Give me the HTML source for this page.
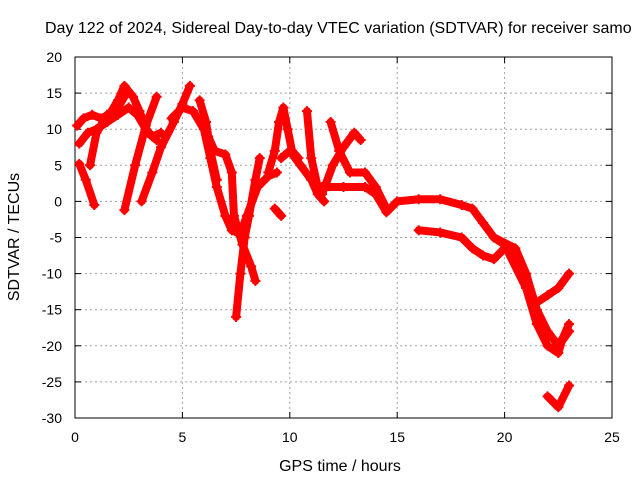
<!DOCTYPE html>
<html><head><meta charset="utf-8"><style>
body{margin:0;background:#fff}
svg{display:block;font-family:"Liberation Sans",sans-serif}
</style></head><body>
<svg id="chart" width="640" height="480">
<text x="45" y="33" text-anchor="start" font-size="16">Day 122 of 2024, Sidereal Day-to-day VTEC variation (SDTVAR) for receiver samo</text>
<text x="340" y="471" text-anchor="middle" font-size="16">GPS time / hours</text>
<text x="19" y="237" text-anchor="middle" font-size="16" transform="rotate(-90 19 237)">SDTVAR / TECUs</text>
<g id="grid"></g>
<g id="axes"></g>
<g id="series"></g>
</svg>
<script>
const xTicks=[0,5,10,15,20,25];
const yTicks=[20,15,10,5,0,-5,-10,-15,-20,-25,-30];
const trackA_h=[0.1,0.4,0.8,1.2,1.6,2.0,2.3,2.7,3.0,3.4,3.8];
const trackA_v=[10.5,11.5,12,11.5,12,14,16,14.5,12.5,9.5,8.5];
const trackB_h=[0.2,0.6,1.0,1.5,2.0,2.5,2.9,3.3,3.6,4.0];
const trackB_v=[8,9.5,10,11,12,13,12,10,9,9.5];
const trackC_h=[2.3,2.8,3.3,3.8];
const trackC_v=[-1.2,5,10.5,14.5];
const trackD_h=[3.1,3.6,4.0,4.6,5.0,5.35];
const trackD_v=[0,4,7.5,11,13.5,16];
const trackE_h=[0.7,1.0,1.5,2.0,2.4];
const trackE_v=[5,9.5,12,13,15];
const trackF_h=[0.2,0.5,0.9];
const trackF_v=[5.2,3,-0.5];
const trackG_h=[4.5,5.0,5.5,6.0,6.3,6.6,7.0,7.3,7.7,8.0,8.5,9.0,9.4];
const trackG_v=[11.5,13,12.5,10,6,2,-2,-4,-4.5,-2,2,3.5,4];
const trackH_h=[5.8,6.1,6.3,6.6];
const trackH_v=[14,11,7,3];
const trackI_h=[6.2,6.5,7.0,7.3,7.4,7.8,8.2,8.4];
const trackI_v=[9,7,6.5,4,-2,-6,-9,-11];
const trackJ_h=[7.5,7.7,7.9,8.1,8.4,8.6];
const trackJ_v=[-16,-10,-5,-2,3,6];
const trackK_h=[9.0,9.3,9.5,9.7,9.9,10.1,10.4];
const trackK_v=[4,7,11,13,10,7,6];
const trackL_h=[9.3,9.6];
const trackL_v=[-1,-2];
const trackM_h=[9.6,10.0,10.5,11.0,11.3,11.6];
const trackM_v=[6,7,5,3,1,0];
const trackN_h=[10.8,11.0,11.3];
const trackN_v=[12.5,6,2];
const trackO_h=[11.5,12.0,12.5,13.0,13.3];
const trackO_v=[1,5,7.5,9.5,8.5];
const trackP_h=[11.5,12.5,13.5,14.0,14.5,15.0,16.0,17.0,18.0,18.5,19.0,19.5,20.0];
const trackP_v=[2,2,2,1,-1.5,0,0.3,0.3,-0.5,-1,-3,-5,-6];
const trackQ_h=[11.9,12.3,12.8,13.5,14.0,14.5];
const trackQ_v=[11,7,4,4,2,-1];
const trackR_h=[16.0,17.0,18.0,18.5,19.0,19.5,20.0];
const trackR_v=[-4,-4.3,-5,-6.5,-7.5,-8,-6.5];
const trackS_h=[19.5,20.5,21.0,21.5,22.0,22.5,23.0];
const trackS_v=[-5,-6.5,-10,-15,-18,-20,-18];
const trackT_h=[20.0,21.0,21.5,22.0,22.5,22.7,23.0];
const trackT_v=[-6,-12,-17,-20,-21,-19,-17];
const trackU_h=[21.5,22.0,22.5,23.0];
const trackU_v=[-14,-13,-12,-10];
const trackV_h=[22.0,22.5,23.0];
const trackV_v=[-27,-28.5,-25.5];
const tracks=[[trackA_h,trackA_v],[trackB_h,trackB_v],[trackC_h,trackC_v],[trackD_h,trackD_v],[trackE_h,trackE_v],[trackF_h,trackF_v],[trackG_h,trackG_v],[trackH_h,trackH_v],[trackI_h,trackI_v],[trackJ_h,trackJ_v],[trackK_h,trackK_v],[trackL_h,trackL_v],[trackM_h,trackM_v],[trackN_h,trackN_v],[trackO_h,trackO_v],[trackP_h,trackP_v],[trackQ_h,trackQ_v],[trackR_h,trackR_v],[trackS_h,trackS_v],[trackT_h,trackT_v],[trackU_h,trackU_v],[trackV_h,trackV_v]];
const L=75,R=612,T=57,B=418;
const xS=h=>L+h/25*(R-L);
const yS=v=>T+(20-v)/50*(B-T);
const NS="http://www.w3.org/2000/svg";
function mk(tag,attrs,parent){const e=document.createElementNS(NS,tag);for(const k in attrs)e.setAttribute(k,attrs[k]);parent.appendChild(e);return e;}
const grid=document.getElementById('grid'),axes=document.getElementById('axes'),ser=document.getElementById('series');
xTicks.forEach(t=>{const x=xS(t);
 if(t>0&&t<25){const g=mk('line',{x1:x,x2:x,y1:T,y2:B,stroke:'#a0a0a0','stroke-dasharray':'2,3'},grid);
 
 }
 mk('line',{x1:x,x2:x,y1:B,y2:B-6,stroke:'#000'},axes);mk('line',{x1:x,x2:x,y1:T,y2:T+6,stroke:'#000'},axes);
 const tx=mk('text',{x:x,y:B+24,'text-anchor':'middle','font-size':14},axes);tx.textContent=t;
 
 });
yTicks.forEach(t=>{const y=yS(t);
 if(t>-30&&t<20){const g=mk('line',{x1:L,x2:R,y1:y,y2:y,stroke:'#a0a0a0','stroke-dasharray':'2,3'},grid);
 
 }
 mk('line',{x1:L,x2:L+6,y1:y,y2:y,stroke:'#000'},axes);mk('line',{x1:R,x2:R-6,y1:y,y2:y,stroke:'#000'},axes);
 const tx=mk('text',{x:L-13,y:y+5,'text-anchor':'end','font-size':14},axes);tx.textContent=t;
 
 });
const frame=mk('rect',{x:L,y:T,width:R-L,height:B-T,fill:'none',stroke:'#000'},axes);


tracks.forEach(([hs,vs])=>{
 const pts=hs.map((h,i)=>xS(h)+','+yS(vs[i])).join(' ');
 const pl=mk('polyline',{points:pts,fill:'none',stroke:'#ff0000','stroke-width':8,'stroke-linejoin':'round','stroke-linecap':'round'},ser);
 
 
 hs.forEach((h,i)=>{const x=xS(h),y=yS(vs[i]);
  const p=mk('path',{d:`M${x-5},${y}H${x+5}M${x},${y-5}V${y+5}`,stroke:'#ff0000','stroke-width':2},ser);
  
  });
});
</script>
</body></html>
